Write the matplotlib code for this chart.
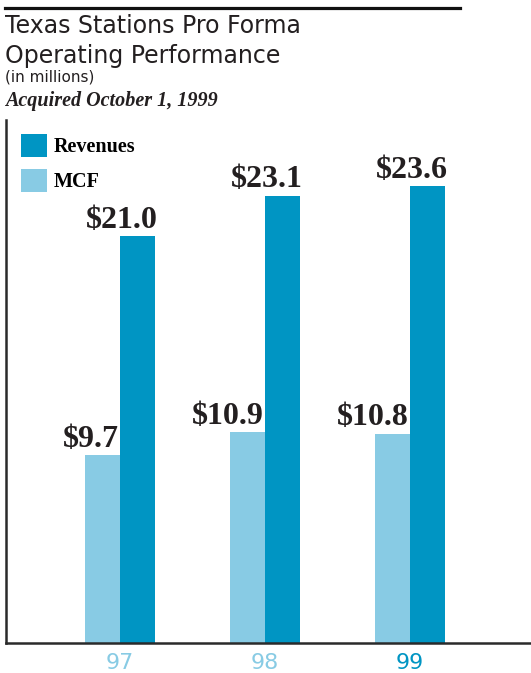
import matplotlib.pyplot as plt
from matplotlib.patches import Patch
from matplotlib.lines import Line2D

years = ["97", "98", "99"]
revenues = [21.0, 23.1, 23.6]
mcf = [9.7, 10.9, 10.8]
rev_labels = ["$21.0", "$23.1", "$23.6"]
mcf_labels = ["$9.7", "$10.9", "$10.8"]

REV_C = "#0095C3"
MCF_C = "#88CBE4"
TXT_C = "#231F20"

W, H = 531, 673
fig = plt.figure(figsize=(W / 100, H / 100), dpi=100)

# axes placement (pixels -> figure fraction)
ax_left, ax_right, ax_top, ax_bottom = 6, 531, 120, 643
ax = fig.add_axes([ax_left / W, 1 - ax_bottom / H, (ax_right - ax_left) / W, (ax_bottom - ax_top) / H])

x = list(range(len(years)))
w = 0.241
ax.bar([i - w / 2 for i in x], mcf, width=w, color=MCF_C, label="MCF")
ax.bar([i + w / 2 for i in x], revenues, width=w, color=REV_C, label="Revenues")

ax.set_ylim(0, 27.0)
ax.set_xlim(-0.786, 2.834)

for sp in ["top", "right"]:
    ax.spines[sp].set_visible(False)
for sp in ["left", "bottom"]:
    ax.spines[sp].set_linewidth(1.8)
    ax.spines[sp].set_color("#2a2a2a")

ax.set_yticks([])
ax.set_xticks(x)
ax.set_xticklabels(years, fontsize=16, family="DejaVu Sans")
tick_colors = [MCF_C, MCF_C, REV_C]
for lab, c in zip(ax.get_xticklabels(), tick_colors):
    lab.set_color(c)
ax.tick_params(axis="x", length=0, pad=7)

lab_font = dict(family="Liberation Serif", fontweight="bold", fontsize=23, color=TXT_C)
for i in x:
    ax.annotate(mcf_labels[i], xy=(i, mcf[i]), xytext=(-1, 6), textcoords="offset points",
                ha="right", va="baseline", **lab_font)
    ax.annotate(rev_labels[i], xy=(i + w, revenues[i]), xytext=(2, 6), textcoords="offset points",
                ha="right", va="baseline", **lab_font)

handles = [Patch(facecolor=REV_C, label="Revenues"), Patch(facecolor=MCF_C, label="MCF")]
ax.legend(handles=handles, loc="upper left", bbox_to_anchor=(15 / (ax_right - ax_left), 1 - 14 / (ax_bottom - ax_top)),
          frameon=False, borderpad=0, borderaxespad=0, handlelength=1.3, handleheight=1.35,
          handletextpad=0.3, labelspacing=0.6,
          prop=dict(family="Liberation Serif", weight="bold", size=14.5))

# title block
fig.add_artist(Line2D([5 / W, 460 / W], [1 - 7.5 / H, 1 - 7.5 / H], color="#111111", linewidth=2.3))
fig.text(5 / W, 1 - 33 / H, "Texas Stations Pro Forma", fontsize=17, color=TXT_C,
         family="DejaVu Sans", va="baseline", ha="left")
fig.text(5 / W, 1 - 63 / H, "Operating Performance", fontsize=17, color=TXT_C,
         family="DejaVu Sans", va="baseline", ha="left")
fig.text(5 / W, 1 - 82 / H, "(in millions)", fontsize=11, color=TXT_C,
         family="DejaVu Sans", va="baseline", ha="left")
fig.text(5 / W, 1 - 106 / H, "Acquired October 1, 1999", fontsize=14.5, color=TXT_C,
         family="Liberation Serif", fontweight="bold", style="italic", va="baseline", ha="left")

fig.savefig("out.png", dpi=100)
